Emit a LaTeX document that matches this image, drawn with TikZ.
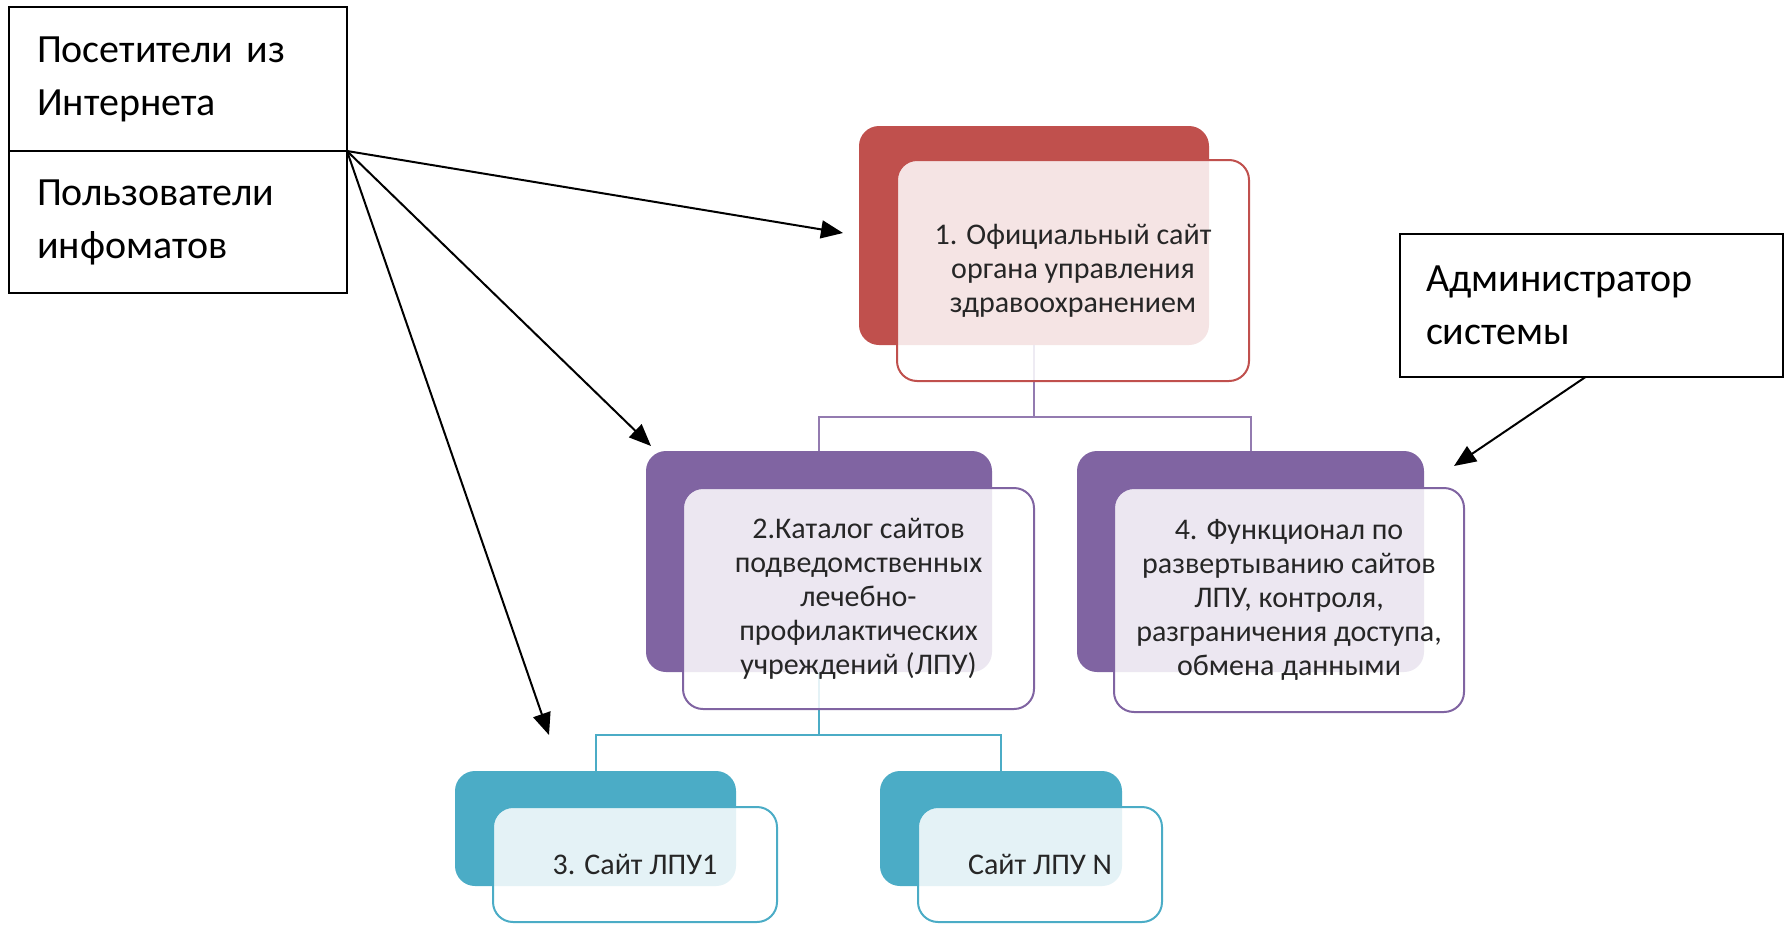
\documentclass[tikz,border=0pt]{standalone}
\usepackage{fontspec}
\setmainfont{Carlito}
\usepackage{tikz}
\usetikzlibrary{arrows.meta}

\definecolor{smred}{HTML}{C0504D}
\definecolor{smpurple}{HTML}{8064A2}
\definecolor{smteal}{HTML}{4BACC6}

\tikzset{
  backbox/.style={rounded corners=10pt,fill=#1,draw=none,inner sep=0pt},
  frontbox/.style={rounded corners=10pt,draw=#1,line width=1pt,fill=white,
    fill opacity=0.85,text opacity=1,text=black!85,align=center,inner sep=0pt,
    font=\fontsize{15}{17}\selectfont},
  userbox/.style={draw,line width=1pt,align=left,inner ysep=0pt,outer sep=0pt,
    font=\fontsize{20}{26.5}\selectfont},
  link/.style={line width=1pt,draw=#1},
  pointer/.style={line width=1pt,-{Triangle[length=11pt,width=9pt]}},
}

\begin{document}
\begin{tikzpicture}[x=0.5pt,y=-0.5pt]
  \useasboundingbox (0,0) rectangle (1792,926);
  % back boxes
  \node[backbox=smred,minimum width=175pt,minimum height=109.5pt] (back1) at (1034,235.5) {};
  \node[backbox=smpurple,minimum width=173pt,minimum height=110.5pt] (back2) at (819,561.5) {};
  \node[backbox=smpurple,minimum width=173.5pt,minimum height=110.5pt] (back4) at (1250.5,561.5) {};
  \node[backbox=smteal,minimum width=140.5pt,minimum height=57.5pt] (back3) at (595.5,828.5) {};
  \node[backbox=smteal,minimum width=121pt,minimum height=57.5pt] (backn) at (1001,828.5) {};
  % tree lines
  \draw[link=smpurple!85] (back1.south) -- ++(0,72) coordinate (fork1)
    (fork1) -| (back2.north) (fork1) -| (back4.north);
  \draw[link=smteal] (back2.south) -- ++(0,63) coordinate (fork2)
    (fork2) -| (back3.north) (fork2) -| (backn.north);
  % front boxes
  \node[frontbox=smred,minimum width=176pt,minimum height=110.5pt] (site1) at (1073,270.5)
    {1. Официальный сайт\\органа управления\\здравоохранением};
  \node[frontbox=smpurple,minimum width=175.5pt,minimum height=110.5pt] (catalog) at (858.5,598.5)
    {2.Каталог сайтов\\подведомственных\\лечебно-\\профилактических\\учреждений (ЛПУ)};
  \node[frontbox=smpurple,minimum width=175pt,minimum height=112pt] (tools) at (1289,600)
    {4. Функционал по\\развертыванию сайтов\\ЛПУ, контроля,\\разграничения доступа,\\обмена данными};
  \node[frontbox=smteal,minimum width=142pt,minimum height=57.5pt] (site3) at (635,864.5)
    {3. Сайт ЛПУ1};
  \node[frontbox=smteal,minimum width=122pt,minimum height=57.5pt] (siten) at (1040,864.5)
    {Сайт ЛПУ N};
  % who uses it
  \node[userbox,text width=141pt,inner xsep=14pt,minimum height=72pt,anchor=north west] (visitors) at (9,7)
    {Посетители из\\Интернета};
  \node[userbox,text width=141pt,inner xsep=14pt,minimum height=71pt,anchor=north] (users) at (visitors.south)
    {Пользователи\\инфоматов};
  \node[userbox,text width=165.5pt,inner xsep=13pt,minimum height=71.5pt,anchor=north west] (admin) at (1400,234)
    {Администратор\\системы};
  \coordinate (tip1) at (843,233);
  \coordinate (tip2) at (651,446);
  \coordinate (tip3) at (549,735);
  \coordinate (tip4) at (1454,466);
  \draw[pointer] (visitors.south east) -- (tip1);
  \draw[pointer] (visitors.south east) -- (tip2);
  \draw[pointer] (visitors.south east) -- (tip3);
  \draw[pointer] ([xshift=-3pt]admin.south) -- (tip4);
\end{tikzpicture}
\end{document}
